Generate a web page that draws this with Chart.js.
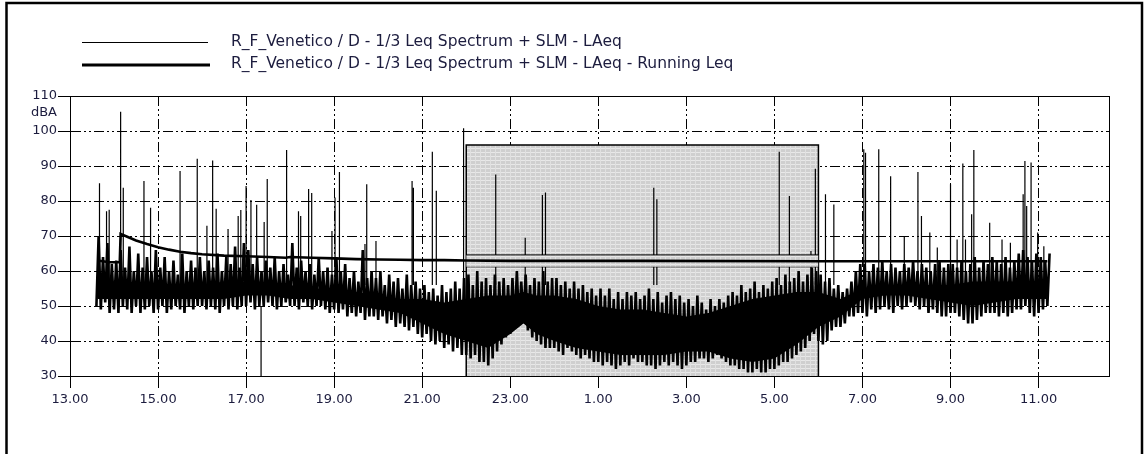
<!DOCTYPE html>
<html lang="en">
<head>
<meta charset="UTF-8">
<title>R_F_Venetico LAeq</title>
<style>
  body { margin: 0; background: #fff; }
  .chart { position: relative; width: 1147px; height: 454px; }
</style>
</head>
<body>
<div class="chart"><canvas id="myChart"></canvas></div>
<script src="https://cdn.jsdelivr.net/npm/chart.js@4.4.1/dist/chart.umd.min.js"></script>
<script>
// time is in hours from midnight of the first day (25 = 1.00 next morning)
const sampleStart = 13.6;
const sampleStep = 0.1;

// LAeq swings: lowest and highest level for each 0.1 h
const laeqLow = [
  50, 49, 51, 48,
  49, 48, 50, 49, 48, 50, 48, 49, 50, 48,
  49, 50, 48, 49, 50, 49, 48, 50, 49, 50,
  50, 49, 50, 49, 48, 50, 49, 50, 49, 50,
  50, 51, 49, 50, 50, 51, 50, 49, 50, 51,
  50, 50, 49, 51, 50, 49, 50, 50, 49, 48,
  49, 48, 49, 47, 48, 47, 48, 46, 47, 47,
  46, 47, 45, 46, 44, 45, 44, 43, 44, 42,
  41, 42, 40, 39, 40, 38, 39, 37, 38, 36,
  36, 35, 36, 34, 34, 33, 35, 37, 39, 41,
  42, 44, 45, 46, 43, 41, 40, 39, 38, 38,
  38, 37, 36, 38, 37, 36, 35, 36, 35, 34,
  34, 33, 34, 33, 32, 33, 34, 33, 35, 34,
  34, 33, 33, 32, 33, 34, 33, 34, 33, 32,
  33, 34, 34, 35, 35, 34, 35, 36, 35, 34,
  33, 33, 32, 32, 31, 31, 32, 31, 31, 32,
  32, 33, 34, 34, 35, 36, 37, 38, 40, 42,
  40, 39, 40, 43, 44, 44, 45, 47, 47, 48,
  48, 47, 49, 48, 49, 50, 49, 48, 50, 49,
  50, 51, 50, 49, 50, 48, 49, 48, 47, 47,
  48, 48, 47, 46, 45, 45, 46, 47, 48, 48,
  48, 47, 48, 47, 48, 49, 49, 50, 48, 47,
  48, 49, 50
];
const laeqHigh = [
  70, 64, 68, 62,
  63, 66, 61, 67, 60, 65, 61, 64, 60, 66,
  61, 64, 60, 63, 59, 65, 60, 63, 61, 64,
  60, 63, 61, 65, 60, 64, 62, 67, 61, 68,
  66, 62, 64, 60, 63, 61, 64, 60, 62, 59,
  68, 61, 63, 60, 62, 59, 64, 60, 61, 59,
  64, 60, 62, 58, 60, 57, 66, 58, 60, 58,
  60, 56, 59, 57, 58, 55, 59, 56, 57, 55,
  56, 54, 55, 53, 56, 54, 55, 57, 55, 58,
  59, 56, 60, 57, 58, 56, 59, 57, 58, 56,
  58, 60, 57, 59, 56, 58, 57, 60, 57, 58,
  58, 56, 57, 55, 57, 55, 56, 54, 55, 53,
  55, 53, 55, 52, 54, 52, 54, 53, 54, 52,
  53, 55, 52, 54, 51, 53, 54, 52, 53, 51,
  52, 50, 53, 51, 49, 52, 50, 52, 51, 53,
  54, 53, 56, 54, 55, 57, 54, 56, 55, 57,
  58, 56, 59, 57, 58, 60, 57, 59, 61, 60,
  59, 57, 58, 55, 56, 54, 55, 57, 60, 62,
  62, 60, 62, 61, 63, 60, 62, 61, 60, 62,
  61, 63, 60, 62, 61, 60, 62, 63, 61, 62,
  62, 61, 63, 60, 62, 64, 61, 63, 62, 64,
  63, 62, 64, 61, 63, 65, 66, 64, 63, 65,
  64, 63, 65
];

// solid core of the trace (where the swings overlap completely)
const coreTimes = [13.62, 14.0, 14.5, 15.0, 15.5, 16.0, 16.5, 17.0, 17.5, 18.0,
  18.5, 19.0, 19.5, 20.0, 20.5, 21.0, 21.5, 22.0, 22.5, 23.0,
  23.3, 23.6, 24.0, 24.5, 25.0, 25.5, 26.0, 26.5, 27.0, 27.5,
  28.0, 28.5, 29.0, 29.5, 30.0, 30.5, 31.0, 31.5, 32.0, 32.5,
  33.0, 33.5, 34.0, 34.5, 35.0, 35.18];
const coreLow = [52, 52, 52, 52, 52, 52, 52, 53, 53, 52,
  52, 51, 50, 49, 48, 45, 42, 40, 38, 42,
  45, 42, 40, 38, 37, 36, 36, 36, 37, 37,
  35, 34, 35, 39, 44, 47, 52, 53, 53, 52,
  51, 50, 51, 52, 52, 52];
const coreHigh = [58, 57, 56, 56, 56, 56, 57, 57, 56, 56,
  55, 55, 54, 53, 52, 52, 51, 52, 53, 53,
  54, 53, 53, 52, 50, 49, 49, 48, 47, 48,
  50, 52, 53, 54, 54, 52, 55, 56, 56, 56,
  56, 57, 57, 57, 57, 57];

// isolated peaks standing out of the band
const spikeTimes = [13.67, 13.83, 13.89, 14.15, 14.21, 14.68, 14.83, 15.5, 15.89, 16.11,
  16.24, 16.32, 16.59, 16.82, 16.88, 17.0, 17.11, 17.24, 17.41, 17.48,
  17.92, 18.19, 18.24, 18.42, 18.49, 18.95, 19.02, 19.12, 19.7, 19.74,
  19.95, 20.77, 20.8, 21.23, 21.32, 21.94, 22.67, 23.34, 23.73, 23.8,
  26.26, 26.33, 29.11, 29.34, 29.83, 29.93, 30.16, 30.35, 31.03, 31.07,
  31.37, 31.64, 31.95, 32.26, 32.34, 32.53, 32.7, 33.0, 33.15, 33.28,
  33.34, 33.48, 33.53, 33.89, 34.17, 34.36, 34.65, 34.69, 34.73, 34.83,
  34.98, 35.12];
const spikePeaks = [85.1, 77.1, 77.5, 105.5, 83.8, 85.7, 78.1, 88.6, 92.1, 72.9,
  91.6, 77.8, 72.0, 75.7, 77.4, 84.3, 80.3, 78.9, 74.0, 86.3,
  94.6, 77.1, 75.7, 83.4, 82.3, 71.4, 81.0, 88.3, 67.7, 84.8,
  68.6, 85.7, 83.8, 94.1, 82.9, 100.8, 87.6, 69.5, 81.7, 82.4,
  83.8, 80.5, 94.1, 81.4, 65.7, 89.2, 81.9, 79.0, 94.8, 93.8,
  94.8, 87.1, 70.0, 88.3, 75.7, 71.0, 66.7, 84.8, 69.0, 90.7,
  69.0, 76.2, 94.6, 73.8, 69.0, 68.1, 81.9, 91.4, 78.6, 91.0,
  71.0, 67.1];
const spikeBase = 56;
const dipTimes = [17.34];
const dipLows = [30];
const dipBase = 50;

// running Leq
const runTimes = [13.62, 13.9, 14.13, 14.15, 14.3, 14.5, 14.75, 15.0, 15.25, 15.5,
  15.75, 16.0, 16.5, 17.0, 17.5, 17.9, 18.0, 18.5, 19.0, 19.5,
  20.0, 20.5, 21.0, 21.5, 22.0, 23.0, 26.0, 30.0, 32.0, 35.2];
const runLeq = [63.0, 62.5, 62.5, 70.6, 69.8, 68.7, 67.7, 66.8, 66.1, 65.5,
  65.1, 64.8, 64.4, 64.2, 64.0, 63.8, 64.0, 63.8, 63.6, 63.4,
  63.3, 63.2, 63.1, 63.1, 63.0, 62.9, 62.9, 62.8, 62.8, 62.8];

// night period marker (22.00 - 6.00)
const nightFrom = 22;
const nightTo = 30;
const nightTop = 96;
const nightBandHigh = 64.6;
const nightBandLow = 61.2;

const xTickHours = [13, 15, 17, 19, 21, 23, 25, 27, 29, 31, 33, 35];
const xTickLabels = ["13.00", "15.00", "17.00", "19.00", "21.00", "23.00", "1.00", "3.00", "5.00", "7.00", "9.00", "11.00"];
const yTickValues = [30, 40, 50, 60, 70, 80, 90, 100, 110];
const yTickLabels = ["30", "40", "50", "60", "70", "80", "90", "100", "110"];

const legendNames = [
  "R_F_Venetico / D - 1/3 Leq Spectrum + SLM - LAeq",
  "R_F_Venetico / D - 1/3 Leq Spectrum + SLM - LAeq - Running Leq"
];

// build the point lists
const swingPoints = [];
laeqLow.forEach((v, i) => {
  swingPoints.push({x: sampleStart + i * sampleStep, y: v});
  swingPoints.push({x: sampleStart + (i + 0.5) * sampleStep, y: laeqHigh[i]});
});
const coreTopPoints = coreTimes.map((t, i) => ({x: t, y: coreHigh[i]}));
const coreLowPoints = coreTimes.map((t, i) => ({x: t, y: coreLow[i]}));

const spikePoints = [];
spikeTimes.forEach((t, i) => {
  spikePoints.push({x: t, y: spikeBase}, {x: t, y: spikePeaks[i]}, {x: t, y: null});
});
dipTimes.forEach((t, i) => {
  spikePoints.push({x: t, y: dipBase}, {x: t, y: dipLows[i]}, {x: t, y: null});
});

const runPoints = runTimes.map((t, i) => ({x: t, y: runLeq[i]}));

const boxPoints = [
  {x: nightFrom, y: 30}, {x: nightFrom, y: nightTop},
  {x: nightTo, y: nightTop}, {x: nightTo, y: 30}
];

// grey dotted fill like the original shading
const tile = document.createElement('canvas');
tile.width = 5; tile.height = 4;
const tctx = tile.getContext('2d');
tctx.fillStyle = '#cfcfcf'; tctx.fillRect(0, 0, 5, 4);
tctx.fillStyle = '#e8e8e8'; tctx.fillRect(0, 0, 5, 1);
tctx.fillStyle = '#e0e0e0'; tctx.fillRect(0, 0, 1, 4);

const ctx = document.getElementById('myChart').getContext('2d');
const shade = ctx.createPattern(tile, 'repeat');

const textColor = '#1c1c3e';
const tickFont = {family: '"DejaVu Sans", sans-serif', size: 13};

const decor = {
  id: 'decor',
  beforeDraw(chart) {
    const c = chart.ctx;
    c.save();
    c.strokeStyle = '#000';
    c.lineWidth = 2.5;
    c.beginPath();
    c.moveTo(6.5, 454); c.lineTo(6.5, 3); c.lineTo(1142, 3); c.lineTo(1142, 454);
    c.stroke();
    c.restore();
  },
  afterDraw(chart) {
    const c = chart.ctx, a = chart.chartArea;
    c.save();
    c.strokeStyle = '#000';
    c.lineWidth = 1;
    c.strokeRect(Math.round(a.left) + 0.5, Math.round(a.top) + 0.5,
      Math.round(a.right - a.left), Math.round(a.bottom - a.top));

    // legend
    c.beginPath();
    c.lineWidth = 1;
    c.moveTo(82, 42.5); c.lineTo(208, 42.5);
    c.stroke();
    c.beginPath();
    c.lineWidth = 3;
    c.moveTo(82, 65); c.lineTo(210, 65);
    c.stroke();
    c.fillStyle = textColor;
    c.font = '15.5px "DejaVu Sans", sans-serif';
    c.textBaseline = 'middle';
    c.fillText(legendNames[0], 231, 42);
    c.fillText(legendNames[1], 231, 64);

    c.font = '13px "DejaVu Sans", sans-serif';
    c.textAlign = 'right';
    c.fillText('dBA', 57, 113);
    c.restore();
  }
};

const myChart = new Chart(ctx, {
  type: 'line',
  data: {
    datasets: [
      {
        label: legendNames[1],
        data: runPoints,
        borderColor: '#000',
        borderWidth: 2.6,
        pointRadius: 0,
        order: 0
      },
      {
        label: 'night band top',
        data: [{x: nightFrom, y: nightBandHigh}, {x: nightTo, y: nightBandHigh}],
        borderColor: '#000',
        borderWidth: 1,
        backgroundColor: shade,
        fill: {value: nightBandLow},
        pointRadius: 0,
        order: 1
      },
      {
        label: 'night band low',
        data: [{x: nightFrom, y: nightBandLow}, {x: nightTo, y: nightBandLow}],
        borderColor: '#000',
        borderWidth: 1,
        pointRadius: 0,
        order: 1
      },
      {
        label: 'peaks',
        data: spikePoints,
        borderColor: '#000',
        borderWidth: 1.2,
        pointRadius: 0,
        spanGaps: false,
        order: 2
      },
      {
        label: legendNames[0],
        data: swingPoints,
        borderColor: '#000',
        borderWidth: 2.6,
        pointRadius: 0,
        order: 3
      },
      {
        label: 'LAeq core top',
        data: coreTopPoints,
        borderWidth: 0,
        backgroundColor: '#000',
        fill: '+1',
        pointRadius: 0,
        order: 3
      },
      {
        label: 'LAeq core low',
        data: coreLowPoints,
        borderWidth: 0,
        pointRadius: 0,
        order: 3
      },
      {
        label: 'night',
        data: boxPoints,
        borderColor: '#000',
        borderWidth: 1.5,
        backgroundColor: shade,
        fill: 'start',
        pointRadius: 0,
        order: 4
      }
    ]
  },
  options: {
    responsive: true,
    maintainAspectRatio: false,
    animation: false,
    events: [],
    layout: {padding: {top: 96, right: 38, left: 0, bottom: 0}},
    plugins: {
      legend: {display: false},
      tooltip: {enabled: false}
    },
    scales: {
      x: {
        type: 'linear',
        min: 13,
        max: 36.6,
        afterFit: (scale) => { scale.height = 78; },
        afterBuildTicks: (scale) => { scale.ticks = xTickHours.map(v => ({value: v})); },
        ticks: {
          autoSkip: false,
          maxRotation: 0,
          padding: 4,
          color: textColor,
          font: tickFont,
          callback: (v, i) => xTickLabels[i]
        },
        grid: {color: '#000', lineWidth: 1, tickLength: 12, tickColor: '#000'},
        border: {color: '#000', width: 1, dash: [10, 3, 2, 3, 2, 3]}
      },
      y: {
        min: 30,
        max: 110,
        afterFit: (scale) => { scale.width = 70; },
        afterBuildTicks: (scale) => { scale.ticks = yTickValues.map(v => ({value: v})); },
        ticks: {
          padding: 1,
          color: textColor,
          font: tickFont,
          callback: (v, i) => yTickLabels[i]
        },
        grid: {color: '#000', lineWidth: 1, tickLength: 12, tickColor: '#000'},
        border: {color: '#000', width: 1, dash: [10, 3, 2, 3, 2, 3]}
      }
    }
  },
  plugins: [decor]
});
</script>
</body>
</html>
